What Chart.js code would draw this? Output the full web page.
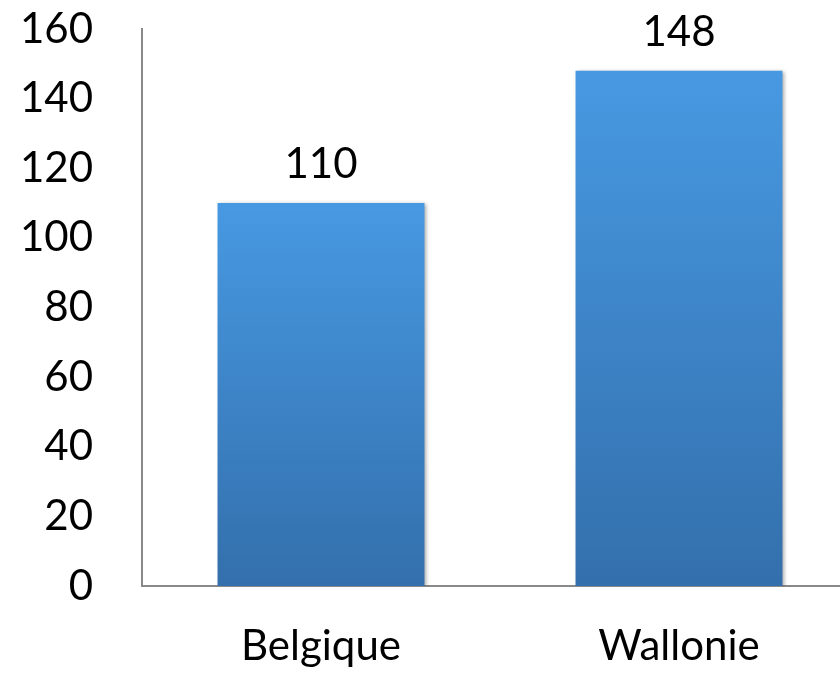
<!DOCTYPE html>
<html>
    <head>
        <title>Belgique / Wallonie</title>
        <meta charset="UTF-8">
        <script src="https://cdn.jsdelivr.net/npm/chart.js@4/dist/chart.umd.min.js"></script>
        <style>
            html, body { margin: 0; padding: 0; background: #fff; overflow: hidden; }
            #wrap { width: 858px; height: 675px; }
        </style>
    </head>
    <body>
        <div id="wrap"><canvas id="myChart" width="858" height="675"></canvas></div>
        <script>
            var categories = ['Belgique', 'Wallonie'];
            var values = [110, 148];
            var yMin = 0, yMax = 160, yStep = 20;

            var FONT = 'Lato, "Open Sans", sans-serif';

            // bar fill: vertical gradient for each bar, light at top, dark at bottom
            function barFill(context) {
                var chart = context.chart;
                var y = chart.scales.y;
                if (!chart.chartArea || !y) return '#4090d6';
                var top = y.getPixelForValue(context.raw);
                var bottom = y.getPixelForValue(0);
                if (!isFinite(top) || !isFinite(bottom) || top === bottom) return '#4090d6';
                var g = chart.ctx.createLinearGradient(0, top, 0, bottom);
                g.addColorStop(0, '#4799e2');
                g.addColorStop(1, '#336fac');
                return g;
            }

            var shadowPlugin = {
                id: 'barShadow',
                beforeDatasetsDraw: function (chart) {
                    var ctx = chart.ctx;
                    ctx.save();
                    ctx.shadowColor = 'rgba(0,0,0,0.35)';
                    ctx.shadowBlur = 4;
                    ctx.shadowOffsetX = 2;
                    ctx.shadowOffsetY = 1;
                },
                afterDatasetsDraw: function (chart) {
                    chart.ctx.restore();
                }
            };

            var valueLabels = {
                id: 'valueLabels',
                afterDatasetsDraw: function (chart) {
                    var ctx = chart.ctx;
                    var meta = chart.getDatasetMeta(0);
                    ctx.save();
                    ctx.font = '42px ' + FONT;
                    ctx.fillStyle = '#000';
                    ctx.textAlign = 'center';
                    ctx.textBaseline = 'alphabetic';
                    meta.data.forEach(function (bar, i) {
                        ctx.fillText(values[i], bar.x, bar.y - 25);
                    });
                    ctx.restore();
                }
            };

            var ctx = document.getElementById('myChart').getContext('2d');
            var chart = new Chart(ctx, {
                type: 'bar',
                data: {
                    labels: categories,
                    datasets: [{
                        data: values,
                        backgroundColor: barFill,
                        borderWidth: 0,
                        barPercentage: 0.578,
                        categoryPercentage: 1.0
                    }]
                },
                options: {
                    responsive: false,
                    animation: false,
                    layout: { padding: { top: 29, left: 0, right: 0, bottom: 0 } },
                    plugins: {
                        legend: { display: false },
                        tooltip: { enabled: false }
                    },
                    scales: {
                        x: {
                            grid: { display: false, drawTicks: false },
                            border: { display: true, color: '#898989', width: 2 },
                            ticks: {
                                color: '#000',
                                font: { family: FONT, size: 42 },
                                padding: 35
                            },
                            afterFit: function (scale) {
                                scale.height = 89;
                                scale.paddingLeft = 0;
                                scale.paddingRight = 0;
                            }
                        },
                        y: {
                            min: yMin,
                            max: yMax,
                            grid: { display: false, drawTicks: false },
                            border: { display: true, color: '#898989', width: 2 },
                            ticks: {
                                stepSize: yStep,
                                color: '#000',
                                font: { family: FONT, size: 42 },
                                padding: 49
                            },
                            afterFit: function (scale) {
                                scale.width = 142;
                                scale.paddingTop = 0;
                                scale.paddingBottom = 0;
                            }
                        }
                    }
                },
                plugins: [shadowPlugin, valueLabels]
            });
        </script>
    </body>
</html>
